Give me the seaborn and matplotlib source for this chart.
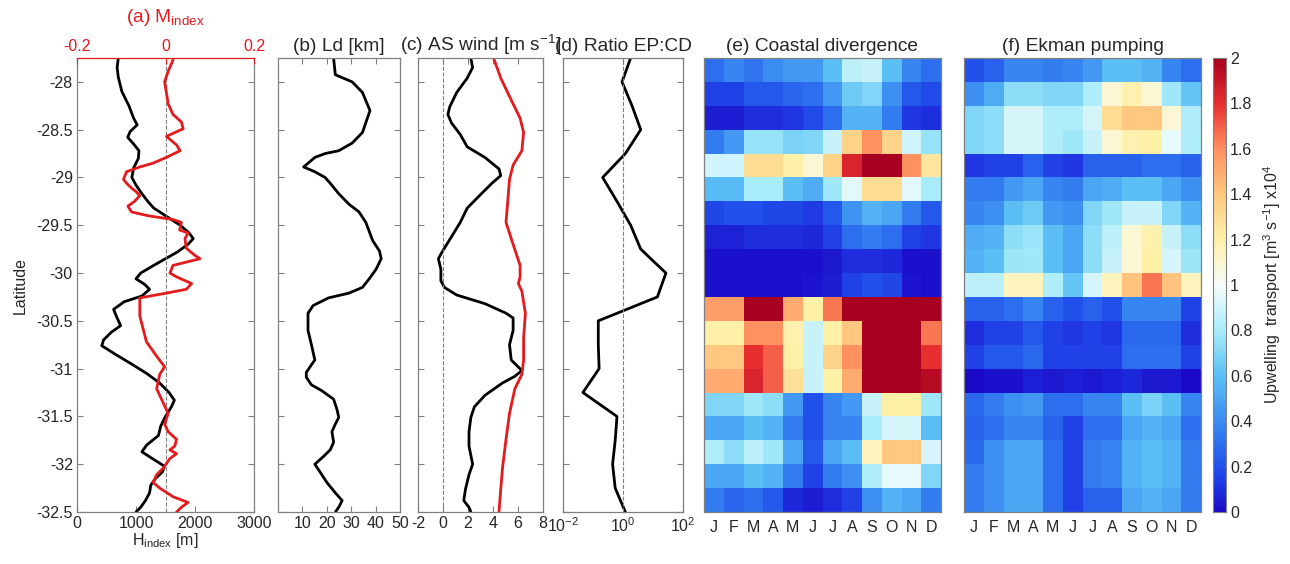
import numpy as np
import pandas as pd
import matplotlib
matplotlib.use("Agg")
import matplotlib.pyplot as plt
from matplotlib.colors import LinearSegmentedColormap
from matplotlib.ticker import FormatStrFormatter, FixedLocator
import seaborn as sns

sns.set_style("ticks")
plt.rcParams["font.family"] = ["Liberation Sans", "DejaVu Sans"]
plt.rcParams["mathtext.fontset"] = "custom"
plt.rcParams["mathtext.rm"] = "Liberation Sans"
plt.rcParams["mathtext.it"] = "Liberation Sans:italic"
plt.rcParams["mathtext.bf"] = "Liberation Sans:bold"
plt.rcParams["axes.unicode_minus"] = False
plt.rcParams["font.size"] = 11.5

# ---- data ----
# (a) H_index [m] (black, bottom axis)
hidx_lat = [-27.75, -27.85, -27.95, -28.1, -28.25, -28.38, -28.45, -28.52, -28.58, -28.65,
            -28.72, -28.8, -28.9, -29.0, -29.08, -29.17, -29.25, -29.32, -29.4, -29.5,
            -29.58, -29.64, -29.7, -29.78, -29.85, -29.92, -30.0, -30.06, -30.12, -30.17,
            -30.24, -30.3, -30.38, -30.47, -30.55, -30.62, -30.7, -30.76, -30.85, -30.95,
            -31.05, -31.15, -31.25, -31.33, -31.4, -31.5, -31.6, -31.7, -31.8, -31.87,
            -31.95, -32.02, -32.08, -32.15, -32.22, -32.3, -32.38, -32.45, -32.5]
hidx_val = [700, 680, 700, 760, 880, 960, 1020, 900, 860, 960,
            1050, 1040, 960, 930, 1000, 1100, 1200, 1300, 1500, 1750,
            1900, 1970, 1880, 1700, 1500, 1300, 1080, 1000, 1150, 1230,
            1100, 800, 620, 680, 740, 580, 450, 420, 650, 920,
            1180, 1400, 1560, 1650, 1600, 1500, 1420, 1380, 1180, 1100,
            1300, 1480, 1450, 1330, 1250, 1230, 1160, 1080, 1000]

# (a) M_index (red, top axis)
midx_lat = [-27.77, -27.89, -28.0, -28.11, -28.23, -28.34, -28.42, -28.49, -28.57, -28.66,
            -28.72, -28.79, -28.85, -28.89, -28.94, -29.02, -29.06, -29.11, -29.15, -29.19,
            -29.25, -29.3, -29.36, -29.4, -29.44, -29.47, -29.55, -29.58, -29.64, -29.74,
            -29.81, -29.85, -29.92, -30.0, -30.04, -30.11, -30.17, -30.21, -30.26, -30.45,
            -30.72, -30.87, -30.98, -31.06, -31.21, -31.36, -31.47, -31.58, -31.66, -31.74,
            -31.81, -31.85, -31.89, -31.94, -32.04, -32.11, -32.19, -32.25, -32.34, -32.4,
            -32.45, -32.5]
midx_val = [0.017, 0.006, -0.002, 0.002, 0.006, 0.017, 0.036, 0.04, 0.002, 0.025,
            0.033, 0.002, -0.028, -0.058, -0.088, -0.095, -0.088, -0.077, -0.066, -0.058,
            -0.07, -0.085, -0.077, -0.04, 0.017, 0.036, 0.032, 0.051, 0.044, 0.047,
            0.065, 0.078, 0.017, 0.01, 0.025, 0.059, 0.047, 0.002, -0.058, -0.058,
            -0.043, -0.02, -0.002, -0.013, -0.02, -0.005, 0.006, -0.002, 0.006, 0.025,
            0.021, 0.01, 0.025, 0.01, -0.005, -0.02, -0.028, -0.013, 0.017, 0.051,
            0.036, 0.025]

# (b) Ld [km]
ld_lat = [-27.755, -27.925, -28.0, -28.11, -28.3, -28.53, -28.64, -28.72, -28.75, -28.79,
          -28.89, -28.94, -29.0, -29.06, -29.17, -29.28, -29.36, -29.47, -29.66, -29.77,
          -29.85, -29.96, -30.06, -30.15, -30.21, -30.26, -30.34, -30.42, -30.6, -30.75,
          -30.91, -30.96, -31.04, -31.09, -31.17, -31.23, -31.32, -31.43, -31.51, -31.58,
          -31.66, -31.77, -31.85, -31.92, -32.0, -32.08, -32.19, -32.3, -32.38, -32.45, -32.5]
ld_val = [22.8, 23.5, 30.4, 34.6, 37.7, 34.6, 30.4, 24.9, 19.3, 15.1,
          10.5, 15.1, 19.3, 21.4, 24.9, 29.1, 33.2, 36.0, 38.8, 41.6,
          42.3, 40.2, 37.4, 34.6, 29.1, 20.7, 14.4, 12.3, 12.3, 13.7,
          15.1, 13.7, 11.6, 11.6, 13.7, 17.9, 22.8, 24.2, 24.9, 23.5,
          22.1, 22.8, 21.4, 18.6, 15.1, 17.2, 20.0, 23.5, 26.3, 24.9, 23.5]

# (c) alongshore wind (black) and wind speed (red) [m s-1]
wind_lat = [-27.755, -27.85, -27.96, -28.11, -28.26, -28.34, -28.43, -28.55, -28.68, -28.79,
            -28.91, -28.98, -29.06, -29.17, -29.32, -29.47, -29.62, -29.77, -29.85, -29.96,
            -30.08, -30.15, -30.23, -30.32, -30.42, -30.47, -30.6, -30.75, -30.91, -31.02,
            -31.08, -31.15, -31.28, -31.4, -31.51, -31.66, -31.81, -32.0, -32.11, -32.26,
            -32.38, -32.45, -32.5]
wind_val = [2.23, 2.37, 1.94, 1.1, 0.54, 0.39, 0.68, 1.38, 1.94, 3.35,
            4.48, 4.62, 3.92, 3.07, 1.94, 1.38, 0.68, -0.03, -0.37, -0.17,
            -0.17, 0.11, 1.1, 3.35, 5.04, 5.61, 5.61, 5.32, 5.46, 6.31,
            5.75, 4.76, 3.35, 2.51, 2.23, 2.08, 2.08, 2.37, 2.08, 1.8,
            1.66, 2.08, 2.23]
speed_lat = [-27.755, -27.96, -28.19, -28.38, -28.53, -28.72, -28.87, -29.02, -29.25, -29.47,
             -29.7, -29.92, -30.04, -30.11, -30.19, -30.42, -30.68, -30.91, -31.06, -31.21,
             -31.47, -31.74, -32.04, -32.26, -32.5]
speed_val = [4.06, 4.62, 5.46, 6.17, 6.45, 6.31, 5.61, 5.32, 5.18, 5.04,
             5.61, 6.17, 6.17, 6.03, 6.31, 6.59, 6.45, 6.45, 6.31, 5.75,
             5.32, 5.04, 4.76, 4.62, 4.48]

# (d) ratio Ekman pumping : coastal divergence
ratio_lat = [-27.75, -28.0, -28.25, -28.5, -28.75, -29.0, -29.25, -29.5, -29.75, -30.0,
             -30.25, -30.5, -30.75, -31.0, -31.25, -31.5, -31.75, -32.0, -32.25, -32.5]
ratio_val = [1.8, 0.93, 2.0, 3.9, 1.2, 0.21, 0.63, 1.8, 3.9, 27,
             14, 0.15, 0.15, 0.16, 0.046, 0.63, 0.55, 0.45, 0.55, 1.2]

# (e)/(f) monthly upwelling transport x1e4 [m3 s-1], 0.25 deg bands
months = ["J", "F", "M", "A", "M", "J", "J", "A", "S", "O", "N", "D"]
band_lat = [-27.875 - 0.25 * i for i in range(19)]
coastal_div = [
    [0.30, 0.38, 0.32, 0.40, 0.45, 0.45, 0.60, 0.85, 0.88, 0.60, 0.38, 0.30],
    [0.15, 0.15, 0.22, 0.22, 0.27, 0.30, 0.45, 0.65, 0.70, 0.42, 0.22, 0.18],
    [0.05, 0.05, 0.10, 0.10, 0.12, 0.18, 0.30, 0.55, 0.55, 0.35, 0.12, 0.10],
    [0.35, 0.45, 0.75, 0.75, 0.68, 0.70, 0.88, 1.35, 1.60, 1.35, 0.90, 0.75],
    [0.90, 0.90, 1.30, 1.30, 1.20, 1.10, 1.35, 1.85, 2.10, 2.10, 1.60, 1.25],
    [0.58, 0.58, 0.80, 0.80, 0.60, 0.52, 0.78, 0.95, 1.30, 1.30, 0.95, 0.80],
    [0.17, 0.20, 0.20, 0.17, 0.17, 0.13, 0.22, 0.43, 0.55, 0.50, 0.35, 0.22],
    [0.07, 0.07, 0.10, 0.10, 0.10, 0.08, 0.15, 0.30, 0.35, 0.30, 0.15, 0.12],
    [0.02, 0.02, 0.02, 0.02, 0.02, 0.02, 0.04, 0.10, 0.10, 0.08, 0.02, 0.02],
    [0.02, 0.02, 0.02, 0.02, 0.02, 0.03, 0.05, 0.15, 0.20, 0.17, 0.03, 0.02],
    [1.55, 1.55, 2.10, 2.10, 1.50, 1.20, 1.65, 2.10, 2.10, 2.10, 2.10, 2.10],
    [1.20, 1.20, 1.60, 1.60, 1.18, 0.88, 1.20, 1.40, 2.10, 2.10, 2.10, 1.65],
    [1.40, 1.40, 1.80, 1.70, 1.20, 0.88, 1.35, 1.60, 2.10, 2.10, 2.10, 1.80],
    [1.50, 1.50, 1.85, 1.70, 1.28, 0.88, 1.20, 1.50, 2.10, 2.10, 2.10, 1.95],
    [0.70, 0.70, 0.78, 0.73, 0.45, 0.20, 0.38, 0.45, 0.88, 1.20, 1.20, 0.78],
    [0.50, 0.50, 0.60, 0.55, 0.35, 0.20, 0.38, 0.38, 0.80, 0.92, 0.92, 0.60],
    [0.82, 0.73, 0.85, 0.78, 0.50, 0.22, 0.50, 0.60, 1.15, 1.40, 1.40, 0.92],
    [0.50, 0.50, 0.60, 0.55, 0.35, 0.15, 0.35, 0.42, 0.82, 0.96, 0.96, 0.70],
    [0.35, 0.27, 0.30, 0.22, 0.08, 0.05, 0.10, 0.15, 0.42, 0.55, 0.50, 0.35],
]
ekman_pump = [
    [0.20, 0.25, 0.38, 0.38, 0.35, 0.38, 0.45, 0.60, 0.60, 0.55, 0.38, 0.30],
    [0.42, 0.52, 0.73, 0.73, 0.70, 0.70, 0.82, 1.10, 1.18, 1.10, 0.78, 0.62],
    [0.70, 0.73, 0.92, 0.92, 0.82, 0.82, 0.92, 1.30, 1.40, 1.40, 1.10, 0.82],
    [0.70, 0.73, 0.92, 0.92, 0.82, 0.78, 0.88, 1.10, 1.18, 1.20, 0.96, 0.82],
    [0.12, 0.15, 0.15, 0.25, 0.15, 0.12, 0.25, 0.25, 0.25, 0.30, 0.30, 0.25],
    [0.35, 0.35, 0.45, 0.50, 0.38, 0.35, 0.50, 0.52, 0.60, 0.60, 0.50, 0.42],
    [0.38, 0.42, 0.60, 0.65, 0.45, 0.42, 0.70, 0.78, 0.88, 0.88, 0.70, 0.55],
    [0.52, 0.55, 0.73, 0.77, 0.60, 0.50, 0.73, 0.85, 1.10, 1.18, 0.88, 0.73],
    [0.55, 0.60, 0.77, 0.78, 0.60, 0.50, 0.73, 0.88, 1.10, 1.20, 0.92, 0.77],
    [0.85, 0.85, 1.15, 1.15, 0.82, 0.62, 0.92, 1.15, 1.42, 1.65, 1.42, 1.15],
    [0.25, 0.25, 0.30, 0.38, 0.25, 0.20, 0.25, 0.20, 0.38, 0.38, 0.38, 0.15],
    [0.10, 0.15, 0.15, 0.22, 0.15, 0.12, 0.15, 0.12, 0.28, 0.28, 0.28, 0.10],
    [0.15, 0.22, 0.22, 0.28, 0.15, 0.15, 0.15, 0.15, 0.30, 0.30, 0.30, 0.15],
    [0.00, 0.02, 0.02, 0.06, 0.04, 0.06, 0.04, 0.06, 0.08, 0.04, 0.04, 0.00],
    [0.28, 0.35, 0.42, 0.45, 0.30, 0.30, 0.38, 0.38, 0.60, 0.68, 0.60, 0.38],
    [0.25, 0.30, 0.38, 0.38, 0.25, 0.15, 0.30, 0.30, 0.50, 0.55, 0.50, 0.30],
    [0.28, 0.42, 0.50, 0.50, 0.30, 0.15, 0.35, 0.38, 0.55, 0.60, 0.55, 0.35],
    [0.35, 0.42, 0.50, 0.50, 0.30, 0.15, 0.35, 0.38, 0.55, 0.60, 0.55, 0.35],
    [0.35, 0.42, 0.50, 0.50, 0.30, 0.15, 0.25, 0.25, 0.50, 0.55, 0.50, 0.35],
]

lat_ticks = [-28, -28.5, -29, -29.5, -30, -30.5, -31, -31.5, -32, -32.5]

# ---- colormap (blue - white - red, MATLAB-like) ----
cmap = LinearSegmentedColormap.from_list("upw", [
    (0.00, "#1a0ac8"), (0.05, "#1e30e0"), (0.10, "#2152ea"), (0.20, "#3a8cf2"),
    (0.30, "#5cc0f5"), (0.40, "#a8ecf9"), (0.50, "#f7fcfc"), (0.60, "#fff0a8"),
    (0.70, "#ffc880"), (0.80, "#ff9060"), (0.90, "#e83030"), (1.00, "#a80020")])

GRAY = "#808080"
W, H = 1290, 564
fig = plt.figure(figsize=(W / 100, H / 100), dpi=100)


def box(x0, x1, y0=58, y1=512):
    return [x0 / W, 1 - y1 / H, (x1 - x0) / W, (y1 - y0) / H]


def style_profile(ax, labels=False):
    ax.set_ylim(-32.5, -27.75)
    ax.set_yticks(lat_ticks)
    if labels:
        ax.yaxis.set_major_formatter(FormatStrFormatter("%g"))
    else:
        ax.set_yticklabels([])
    ax.tick_params(direction="in", length=4, color=GRAY, left=True, right=True,
                   top=True, bottom=True, pad=3)
    for s in ax.spines.values():
        s.set_visible(True)
        s.set_color(GRAY)
        s.set_linewidth(0.9)
    ax.set_xlabel("")
    ax.set_ylabel("")


lw = 2.0

# (a)
ax_a = fig.add_axes(box(77, 254))
sns.lineplot(x=hidx_val, y=hidx_lat, sort=False, estimator=None, color="k", lw=lw, ax=ax_a)
ax_a.axvline(1500, color=GRAY, ls="--", lw=0.8)
ax_a.set_xlim(0, 3000)
ax_a.set_xticks([0, 1000, 2000, 3000])
style_profile(ax_a, labels=True)
ax_a.tick_params(top=False)
ax_a.set_xlabel(r"H$_{\rm index}$ [m]", labelpad=0)
ax_a.set_ylabel("Latitude", labelpad=6)
ax_m = ax_a.twiny()
sns.lineplot(x=midx_val, y=midx_lat, sort=False, estimator=None, color="#e41a1c", lw=lw, ax=ax_m)
ax_m.set_xlim(-0.2, 0.2)
ax_m.set_xticks([-0.2, 0, 0.2])
ax_m.xaxis.set_major_formatter(FormatStrFormatter("%g"))
ax_m.tick_params(direction="in", length=4, colors="#e41a1c", pad=3)
for k, s in ax_m.spines.items():
    s.set_visible(k == "top")
ax_m.spines["top"].set_color("#e41a1c")
ax_m.set_ylim(-32.5, -27.75)
ax_m.set_title(r"(a) M$_{\rm index}$", color="#e41a1c", pad=12)

# (b)
ax_b = fig.add_axes(box(278, 400))
sns.lineplot(x=ld_val, y=ld_lat, sort=False, estimator=None, color="k", lw=lw, ax=ax_b)
ax_b.set_xlim(0, 50)
ax_b.set_xticks([10, 20, 30, 40, 50])
style_profile(ax_b)
ax_b.set_title("(b) Ld [km]", pad=5)

# (c)
ax_c = fig.add_axes(box(418, 543))
sns.lineplot(x=wind_val, y=wind_lat, sort=False, estimator=None, color="k", lw=lw, ax=ax_c)
sns.lineplot(x=speed_val, y=speed_lat, sort=False, estimator=None, color="#e41a1c", lw=lw, ax=ax_c)
ax_c.axvline(0, color=GRAY, ls="--", lw=0.8)
ax_c.set_xlim(-2, 8)
ax_c.set_xticks([-2, 0, 2, 4, 6, 8])
style_profile(ax_c)
ax_c.set_title(r"(c) AS wind [m s$^{-1}$]", pad=5)

# (d)
ax_d = fig.add_axes(box(563, 683))
sns.lineplot(x=ratio_val, y=ratio_lat, sort=False, estimator=None, color="k", lw=lw, ax=ax_d)
ax_d.axvline(1, color=GRAY, ls="--", lw=0.8)
ax_d.set_xscale("log")
ax_d.set_xlim(1e-2, 1e2)
ax_d.xaxis.set_major_locator(FixedLocator([1e-2, 1e0, 1e2]))
ax_d.xaxis.set_minor_locator(FixedLocator([]))
ax_d.set_xticklabels([r"10$^{-2}$", r"10$^{0}$", r"10$^{2}$"])
style_profile(ax_d)
ax_d.set_title("(d) Ratio EP:CD", pad=5)

# (e) and (f) heatmaps
df_cd = pd.DataFrame(coastal_div, index=band_lat, columns=range(12))
df_ep = pd.DataFrame(ekman_pump, index=band_lat, columns=range(12))
ax_e = fig.add_axes(box(704, 941))
ax_f = fig.add_axes(box(964, 1201))
cax = fig.add_axes(box(1213, 1226))
sns.heatmap(df_cd, ax=ax_e, cmap=cmap, vmin=0, vmax=2, cbar=False)
sns.heatmap(df_ep, ax=ax_f, cmap=cmap, vmin=0, vmax=2, cbar=True, cbar_ax=cax)
for ax, ttl in [(ax_e, "(e) Coastal divergence"), (ax_f, "(f) Ekman pumping")]:
    ax.set_xticks(np.arange(12) + 0.5)
    ax.set_xticklabels(months, rotation=0)
    ax.set_yticks(np.arange(1, 19, 2))
    ax.set_yticklabels([])
    ax.tick_params(direction="in", length=3, color=GRAY, left=True, right=True,
                   top=True, bottom=True, pad=6)
    for s in ax.spines.values():
        s.set_visible(True)
        s.set_color(GRAY)
        s.set_linewidth(0.9)
    ax.set_xlabel("")
    ax.set_ylabel("")
    ax.set_title(ttl, pad=5)

cax.set_yticks(np.arange(0, 2.01, 0.2))
cax.yaxis.set_major_formatter(FormatStrFormatter("%g"))
cax.tick_params(direction="in", length=3, color="#444444", pad=3)
for s in cax.spines.values():
    s.set_visible(True)
    s.set_color(GRAY)
cax.set_ylabel(r"Upwelling  transport [m$^{3}$ s$^{-1}$] x10$^{4}$", labelpad=6)

fig.savefig("out.png", dpi=100)
